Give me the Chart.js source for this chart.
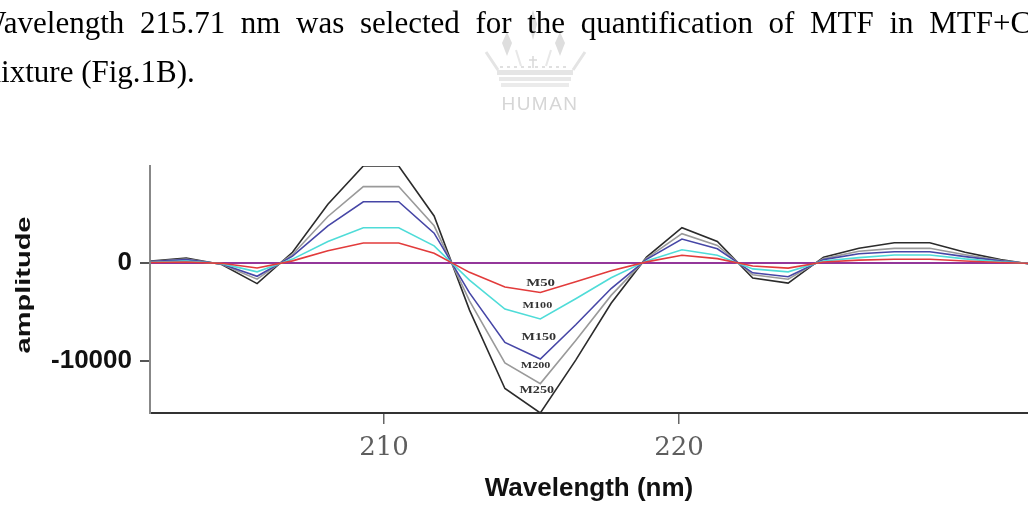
<!DOCTYPE html>
<html>
<head>
<meta charset="utf-8">
<title>Wavelength amplitude</title>
<script src="https://cdn.jsdelivr.net/npm/chart.js@4.4.1/dist/chart.umd.min.js"></script>
<style>
    html, body { margin: 0; padding: 0; background: #fff; }
    body { width: 1028px; height: 505px; position: relative; overflow: hidden; }
    #chart { position: absolute; left: 0; top: 0; }
    .para {
        position: absolute; left: -23px; top: -2px; z-index: 2;
        font-family: 'Liberation Serif', 'Times New Roman', serif;
        font-size: 31px; line-height: 49px; color: #000;
        white-space: nowrap; word-spacing: 7.9px;
    }
    .para .last { word-spacing: 0; }
    .logo { position: absolute; left: 480px; top: 5px; z-index: 1; }
    .logo-text {
        position: absolute; left: 490px; top: 94px; width: 100px; z-index: 1;
        text-align: center; font-family: 'Liberation Sans', Arial, sans-serif;
        font-size: 19px; line-height: 19px; letter-spacing: 1.5px; color: #d6d6d6;
    }
</style>
</head>
<body>
<div class="para">
    <div>Wavelength 215.71 nm was selected for the quantification of MTF in MTF+CHL</div>
    <div class="last">mixture (Fig.1B).</div>
</div>

<!-- faint crown mark behind the text -->
<svg class="logo" width="110" height="90" viewBox="480 5 110 90">
    <polygon points="533,10 537,24 533,40 529,24" fill="#dcdcdc"/>
    <polygon points="507,32 512,43 507,56 502,43" fill="#dedede"/>
    <polygon points="560,32 565,43 560,56 555,43" fill="#dedede"/>
    <line x1="486" y1="52" x2="498" y2="70" stroke="#e4e4e4" stroke-width="3"/>
    <line x1="585" y1="52" x2="573" y2="70" stroke="#e4e4e4" stroke-width="3"/>
    <line x1="516" y1="50" x2="521" y2="66" stroke="#e8e8e8" stroke-width="2"/>
    <line x1="551" y1="50" x2="546" y2="66" stroke="#e8e8e8" stroke-width="2"/>
    <line x1="533" y1="56" x2="533" y2="68" stroke="#d8d8d8" stroke-width="1.5"/>
    <line x1="529" y1="60" x2="537" y2="60" stroke="#d8d8d8" stroke-width="1.5"/>
    <line x1="500" y1="67" x2="570" y2="67" stroke="#e0e0e0" stroke-width="2" stroke-dasharray="3,4"/>
    <rect x="497" y="70" width="76" height="5" fill="#e5e5e5"/>
    <rect x="499" y="77" width="72" height="4" fill="#e8e8e8"/>
    <rect x="501" y="83" width="68" height="4" fill="#ebebeb"/>
</svg>
<div class="logo-text">HUMAN</div>

<canvas id="chart" width="1028" height="505"></canvas>

<script>
// sample wavelengths (nm), shared by every trace
const wavelengths = [202.1, 203.3, 204.5, 205.7, 206.9, 208.1, 209.3, 210.5, 211.7, 212.9,
                     214.1, 215.3, 216.5, 217.7, 218.9, 220.1, 221.3, 222.5, 223.7, 224.9,
                     226.1, 227.3, 228.5, 229.7, 230.9, 232.1];

const m50  = [50, 100, -30, -500, 220, 1250, 2050, 2050, 1000, -950,
              -2450, -3000, -1900, -780, 120, 800, 450, -300, -520, 100,
              300, 380, 380, 200, 60, -40];
const m100 = [80, 200, -60, -900, 400, 2200, 3600, 3600, 1750, -1750,
              -4700, -5700, -3650, -1500, 220, 1350, 800, -600, -900, 200,
              550, 820, 820, 420, 120, -70];
const m150 = [150, 350, -100, -1350, 700, 3800, 6250, 6250, 3050, -3050,
              -8100, -9800, -6300, -2600, 380, 2450, 1450, -1000, -1400, 350,
              950, 1150, 1150, 650, 220, -120];
const m200 = [150, 400, -120, -1650, 870, 4750, 7800, 7800, 3800, -3850,
              -10200, -12300, -7900, -3300, 480, 3000, 1800, -1200, -1650, 450,
              1200, 1500, 1500, 850, 280, -160];
const m250 = [200, 500, -150, -2100, 1100, 6000, 9900, 9900, 4800, -4800,
              -12800, -15300, -9900, -4100, 600, 3600, 2200, -1530, -2050, 600,
              1500, 2070, 2070, 1100, 350, -200];

const seriesNames  = ['M50', 'M100', 'M150', 'M200', 'M250'];
const seriesValues = [m50, m100, m150, m200, m250];
const seriesColors = ['#e23b3b', '#4fdcd8', '#4646a6', '#9a9a9a', '#2b2b2b'];

const xTicks = [210, 220];
const yTicks = [-10000, 0];

// concentration tags written inside the main trough
const curveLabels = [
    { text: 'M50',  x: 215.31, y: -2040,  size: 11 },
    { text: 'M100', x: 215.20, y: -4360,  size: 9 },
    { text: 'M150', x: 215.25, y: -7620,  size: 10.5 },
    { text: 'M200', x: 215.14, y: -10510, size: 9 },
    { text: 'M250', x: 215.18, y: -12960, size: 10.5 },
];

const zeroLine = '#94379a';

const curveLabelPlugin = {
    id: 'curveLabels',
    afterDatasetsDraw(chart) {
        const { ctx, scales } = chart;
        ctx.save();
        ctx.fillStyle = '#333';
        ctx.textAlign = 'center';
        ctx.textBaseline = 'middle';
        curveLabels.forEach(l => {
            ctx.save();
            ctx.translate(scales.x.getPixelForValue(l.x), scales.y.getPixelForValue(l.y));
            ctx.scale(1.35, 1);
            ctx.font = `bold ${l.size}px 'Liberation Serif', 'Times New Roman', serif`;
            ctx.fillText(l.text, 0, 0);
            ctx.restore();
        });
        ctx.restore();
    }
};

// y title is drawn by hand so it can be stretched along its length
const yTitlePlugin = {
    id: 'yTitle',
    afterDraw(chart) {
        const { ctx } = chart;
        ctx.save();
        ctx.translate(24, 285);
        ctx.rotate(-Math.PI / 2);
        ctx.scale(1.45, 1);
        ctx.font = "bold 20px 'Liberation Sans', Arial, sans-serif";
        ctx.fillStyle = '#111';
        ctx.textAlign = 'center';
        ctx.textBaseline = 'middle';
        ctx.fillText('amplitude', 0, 0);
        ctx.restore();
    }
};

const datasets = seriesNames.map((name, i) => ({
    label: name,
    data: wavelengths.map((w, j) => ({ x: w, y: seriesValues[i][j] })),
    borderColor: seriesColors[i],
    borderWidth: 1.6,
    pointRadius: 0,
    tension: 0,
    fill: false,
}));

new Chart(document.getElementById('chart').getContext('2d'), {
    type: 'line',
    data: { datasets },
    options: {
        responsive: false,
        animation: false,
        layout: { padding: { top: 166, left: 0, right: 0, bottom: 0 } },
        plugins: {
            legend: { display: false },
            tooltip: { enabled: false },
        },
        scales: {
            x: {
                type: 'linear',
                min: 202.07,
                max: 231.83,
                afterFit: s => { s.height = 92; },
                afterBuildTicks: s => { s.ticks = xTicks.map(v => ({ value: v })); },
                grid: { drawOnChartArea: false, drawTicks: true, tickLength: 11, color: '#666', lineWidth: 1.5 },
                border: { color: '#333', width: 2 },
                ticks: {
                    padding: 9, color: '#5e5e5e', maxRotation: 0, autoSkip: false,
                    font: { family: "'DejaVu Serif', serif", size: 26 },
                },
                title: {
                    display: true,
                    text: 'Wavelength (nm)',
                    color: '#111',
                    font: { family: "'Liberation Sans', Arial, sans-serif", size: 26, weight: 'bold' },
                    padding: { top: 0, bottom: 1 },
                },
            },
            y: {
                min: -15300,
                max: 9900,
                z: 1,
                afterFit: s => { s.width = 150; },
                afterBuildTicks: s => { s.ticks = yTicks.map(v => ({ value: v })); },
                grid: {
                    color: c => (c.tick && c.tick.value === 0 ? zeroLine : 'rgba(0,0,0,0)'),
                    tickColor: '#555',
                    lineWidth: 2,
                    tickLength: 10,
                },
                border: { color: '#888', width: 2 },
                ticks: {
                    padding: 8, color: '#111',
                    font: { family: "'Liberation Sans', Arial, sans-serif", size: 26, weight: 'bold' },
                    callback: v => String(v),
                },
            },
        },
    },
    plugins: [curveLabelPlugin, yTitlePlugin],
});
</script>
</body>
</html>
